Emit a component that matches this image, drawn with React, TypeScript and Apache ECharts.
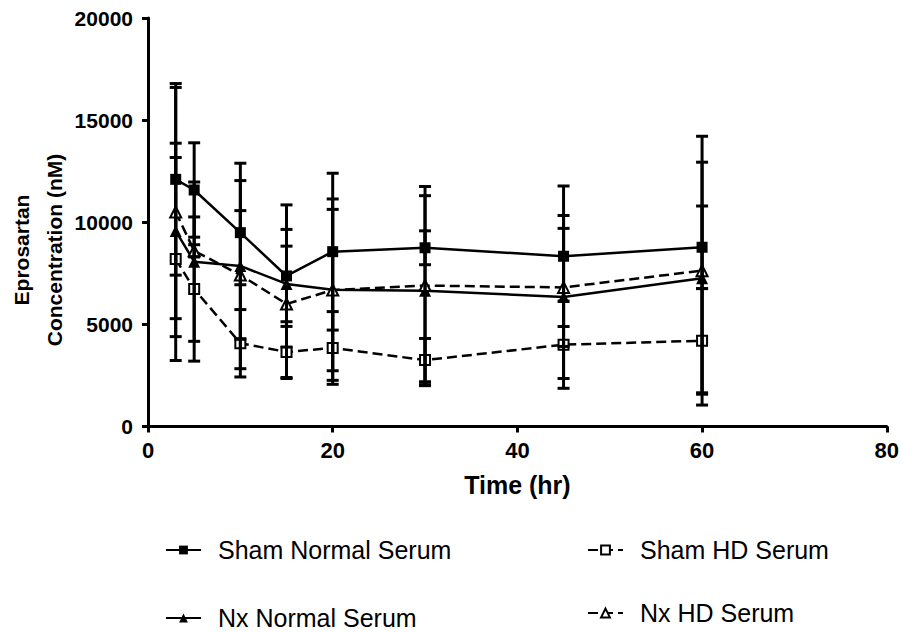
import React, { useEffect, useRef } from "react";
import * as echarts from "echarts";

const FONT = '"Liberation Sans", Arial, sans-serif';

const times = [3, 5, 10, 15, 20, 30, 45, 60];

const shamNormal = [12100, 11580, 9490, 7370, 8560, 8750, 8335, 8775];
const shamNormalSD = [4690, 2310, 2550, 3480, 3840, 830, 3440, 2020];

const nxNormal = [9575, 8070, 7860, 6980, 6700, 6650, 6340, 7260];
const nxNormalSD = [4295, 3900, 5030, 1850, 4440, 4650, 3990, 5680];

const shamHD = [8200, 6730, 4075, 3650, 3845, 3250, 4005, 4200];
const shamHDSD = [4970, 3530, 1650, 1250, 1780, 1060, 2135, 2550];

const nxHD = [10500, 8600, 7420, 6000, 6680, 6900, 6810, 7630];
const nxHDSD = [6100, 300, 3150, 3650, 3950, 4850, 2890, 6580];

const yTicks = [0, 5000, 10000, 15000, 20000];
const xTicks = [0, 20, 40, 60, 80];

const names = ["Sham Normal Serum", "Sham HD Serum", "Nx Normal Serum", "Nx HD Serum"];

function errorBarSeries(name: string, means: number[], sds: number[]) {
  return {
    type: "custom",
    name: name + " SD",
    z: 4,
    silent: true,
    encode: { x: 0, y: [1, 2] },
    data: times.map((t, i) => [t, means[i] - sds[i], means[i] + sds[i]]),
    renderItem: (params: any, api: any) => {
      const x = api.value(0);
      const lo = api.coord([x, api.value(1)]);
      const hi = api.coord([x, api.value(2)]);
      const w = 6;
      const st = { stroke: "#000", lineWidth: 3 };
      return {
        type: "group",
        children: [
          { type: "line", shape: { x1: lo[0], y1: lo[1], x2: hi[0], y2: hi[1] }, style: st },
          { type: "line", shape: { x1: lo[0] - w, y1: lo[1], x2: lo[0] + w, y2: lo[1] }, style: st },
          { type: "line", shape: { x1: hi[0] - w, y1: hi[1], x2: hi[0] + w, y2: hi[1] }, style: st },
        ],
      };
    },
  };
}

function lineSeries(name: string, means: number[], symbol: string, filled: boolean, dashed: boolean, size: number) {
  return {
    type: "line",
    name,
    z: 3,
    data: times.map((t, i) => [t, means[i]]),
    symbol,
    symbolSize: size,
    showAllSymbol: true,
    lineStyle: { color: "#000", width: 2.5, type: dashed ? [10, 5] : "solid" },
    itemStyle: {
      color: filled ? "#000" : "#fff",
      borderColor: "#000",
      borderWidth: filled ? 0 : 2,
    },
  };
}

export default function App() {
  const ref = useRef<HTMLDivElement>(null);
  useEffect(() => {
    if (!ref.current) return;
    const chart = echarts.init(ref.current, null, { renderer: "svg" });
    const legendBase = (name: string, left: number, top: number) => ({
      data: [name],
      left,
      top,
      orient: "horizontal",
      padding: 0,
      itemWidth: 35,
      itemHeight: 11,
      selectedMode: false,
      textStyle: {
        fontFamily: FONT,
        fontSize: 25,
        color: "#000",
        lineHeight: 28,
        padding: [0, 0, 0, 12],
      },
    });
    chart.setOption({
      animation: false,
      backgroundColor: "#fff",
      grid: { left: 148, top: 18, width: 740, height: 408.5, containLabel: false },
      legend: [
        legendBase(names[0], 165, 536),
        legendBase(names[1], 587, 536),
        legendBase(names[2], 165, 604),
        legendBase(names[3], 587, 599),
      ],
      xAxis: {
        type: "value",
        min: xTicks[0],
        max: xTicks[xTicks.length - 1],
        interval: 20,
        name: "Time (hr)",
        nameLocation: "middle",
        nameGap: 46,
        nameTextStyle: { fontFamily: FONT, fontSize: 25, fontWeight: "bold", color: "#000" },
        axisLine: { show: true, onZero: false, lineStyle: { color: "#000", width: 3 } },
        axisTick: { show: true, length: 6, lineStyle: { color: "#000", width: 3 } },
        axisLabel: {
          fontFamily: FONT,
          fontSize: 22,
          fontWeight: "bold",
          color: "#000",
          margin: 13,
          formatter: (v: number) => String(v),
        },
        splitLine: { show: false },
      },
      yAxis: {
        type: "value",
        min: yTicks[0],
        max: yTicks[yTicks.length - 1],
        interval: 5000,
        axisLine: { show: true, onZero: false, lineStyle: { color: "#000", width: 3 } },
        axisTick: { show: true, length: 6, lineStyle: { color: "#000", width: 3 } },
        axisLabel: {
          fontFamily: FONT,
          fontSize: 21,
          fontWeight: "bold",
          color: "#000",
          margin: 15,
          formatter: (v: number) => String(v),
        },
        splitLine: { show: false },
      },
      graphic: [
        {
          type: "text",
          x: 38,
          y: 250,
          rotation: Math.PI / 2,
          style: {
            text: "Eprosartan\nConcentration (nM)",
            font: 'bold 21px "Liberation Sans", Arial, sans-serif',
            textAlign: "center",
            textVerticalAlign: "middle",
            lineHeight: 33,
            fill: "#000",
          },
        },
      ],
      series: [
        errorBarSeries(names[0], shamNormal, shamNormalSD),
        errorBarSeries(names[1], shamHD, shamHDSD),
        errorBarSeries(names[2], nxNormal, nxNormalSD),
        errorBarSeries(names[3], nxHD, nxHDSD),
        lineSeries(names[0], shamNormal, "rect", true, false, 11),
        lineSeries(names[1], shamHD, "rect", false, true, 10),
        lineSeries(names[2], nxNormal, "triangle", true, false, 12),
        lineSeries(names[3], nxHD, "triangle", false, true, 11),
      ],
    });
    return () => chart.dispose();
  }, []);
  return <div ref={ref} style={{ width: 902, height: 632, position: "fixed", left: 0, top: 0 }} />;
}
